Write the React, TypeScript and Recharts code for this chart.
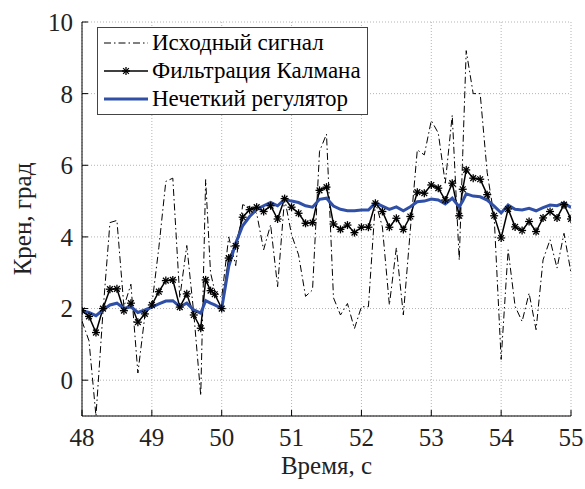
import { LineChart, Line, XAxis, YAxis, CartesianGrid, Legend, Label } from "recharts"

// time stamps, s
const time = [
  48.0, 48.1, 48.2, 48.3, 48.4, 48.5, 48.6, 48.7, 48.8, 48.9,
  49.0, 49.1, 49.2, 49.3, 49.4, 49.5, 49.6, 49.7, 49.77, 49.84, 49.9,
  50.0, 50.1, 50.2, 50.3, 50.4, 50.5, 50.6, 50.7, 50.8, 50.9,
  51.0, 51.1, 51.2, 51.3, 51.4, 51.5, 51.6, 51.7, 51.8, 51.9,
  52.0, 52.1, 52.2, 52.3, 52.4, 52.5, 52.6, 52.7, 52.8, 52.9,
  53.0, 53.1, 53.2, 53.3, 53.4, 53.45, 53.5, 53.6, 53.7, 53.8, 53.9,
  54.0, 54.1, 54.2, 54.3, 54.4, 54.5, 54.6, 54.7, 54.8, 54.9, 55.0,
]

const rawSignal = [
  1.65, 1.1, -1.0, 1.9, 4.4, 4.46, 2.05, 2.68, 0.2, 1.8,
  2.1, 3.7, 5.55, 5.64, 2.3, 3.76, 1.87, -0.43, 5.6, 3.0, 2.5,
  2.3, 4.0, 3.2, 4.9, 4.83, 4.66, 3.64, 4.34, 2.61, 5.08,
  4.06, 3.5, 2.34, 2.52, 6.39, 6.87, 2.3, 1.82, 2.14, 1.44,
  2.05, 2.05, 4.98, 4.28, 2.1, 3.7, 1.82, 4.2, 6.43, 6.29,
  7.25, 6.9, 5.5, 7.4, 3.35, 6.3, 9.2, 8.0, 8.0, 5.8, 4.57,
  0.58, 3.64, 2.06, 1.64, 2.43, 1.41, 3.36, 3.92, 3.13, 4.1, 3.0,
]

const kalman = [
  1.94, 1.78, 1.33, 2.0, 2.54, 2.55, 1.94, 2.15, 1.62, 1.85,
  2.1, 2.47, 2.78, 2.8, 2.04, 2.41, 1.82, 1.45, 2.8, 2.5, 2.4,
  2.0, 3.41, 3.75, 4.55, 4.76, 4.83, 4.71, 4.87, 4.5, 5.07,
  4.83, 4.66, 4.38, 4.4, 5.3, 5.39, 4.36, 4.21, 4.33, 4.12,
  4.27, 4.27, 4.94, 4.71, 4.27, 4.52, 4.21, 4.57, 5.25, 5.22,
  5.45, 5.36, 5.03, 5.5, 4.59, 5.33, 5.87, 5.64, 5.61, 5.18, 4.59,
  3.97, 4.78, 4.28, 4.18, 4.43, 4.15, 4.53, 4.71, 4.53, 4.9, 4.5,
]

const fuzzy = [
  1.94, 1.89, 1.8, 1.96, 2.1, 2.15, 2.0, 2.05, 1.89, 1.96,
  2.04, 2.13, 2.21, 2.22, 2.05, 2.15, 1.96, 1.87, 2.22, 2.15, 2.1,
  2.0, 3.17, 3.82, 4.31, 4.57, 4.77, 4.87, 4.96, 4.87, 5.05,
  5.0, 4.96, 4.87, 4.83, 5.05, 5.08, 4.86, 4.77, 4.73, 4.73,
  4.75, 4.75, 4.95, 4.86, 4.77, 4.84, 4.73, 4.84, 4.98, 5.0,
  5.06, 5.03, 4.92, 5.08, 4.84, 5.0, 5.2, 5.14, 5.12, 5.03, 4.86,
  4.67, 4.89, 4.77, 4.75, 4.8, 4.73, 4.82, 4.89, 4.87, 4.95, 4.82,
]

const xTicks = [48, 49, 50, 51, 52, 53, 54, 55]
const yTicks = [0, 2, 4, 6, 8, 10]

const seriesNames = ["Исходный сигнал", "Фильтрация Калмана", "Нечеткий регулятор"]

const data = time.map((t, i) => ({ t, raw: rawSignal[i], kalman: kalman[i], fuzzy: fuzzy[i] }))

const FONT = "'Liberation Serif', 'DejaVu Serif', 'Noto Serif', Tinos, 'Times New Roman', serif"
const BLUE = "#3050a8"
const RAW_DASH = "7 3 1.5 3"

// matlab style '*' marker
function Star({ cx, cy, r = 4 }: { cx?: number; cy?: number; r?: number }) {
  if (cx == null || cy == null) return null
  const d = r * 0.72
  return (
    <g stroke="#000" strokeWidth={1.3}>
      <line x1={cx - r} y1={cy} x2={cx + r} y2={cy} />
      <line x1={cx} y1={cy - r} x2={cx} y2={cy + r} />
      <line x1={cx - d} y1={cy - d} x2={cx + d} y2={cy + d} />
      <line x1={cx - d} y1={cy + d} x2={cx + d} y2={cy - d} />
    </g>
  )
}

function LegendBox() {
  return (
    <div
      style={{
        border: "1px solid #444",
        background: "#fff",
        padding: "1px 6px 1px 4px",
        fontFamily: FONT,
        fontSize: 23,
        lineHeight: "28px",
        color: "#000",
      }}
    >
      {seriesNames.map((name, i) => (
        <div key={name} style={{ display: "flex", alignItems: "center", height: 28 }}>
          <svg width={48} height={28} style={{ marginRight: 2 }}>
            {i === 0 && <line x1={2} y1={14} x2={46} y2={14} stroke="#000" strokeWidth={1} strokeDasharray={RAW_DASH} />}
            {i === 1 && (
              <>
                <line x1={2} y1={14} x2={46} y2={14} stroke="#000" strokeWidth={1.5} />
                <Star cx={24} cy={14} />
              </>
            )}
            {i === 2 && <line x1={2} y1={14} x2={46} y2={14} stroke={BLUE} strokeWidth={3} />}
          </svg>
          <span>{name}</span>
        </div>
      ))}
    </div>
  )
}

export default function App() {
  const tickStyle = { fontFamily: FONT, fontSize: 25, fill: "#222" }
  return (
    <div style={{ position: "absolute", left: 0, top: 0, background: "#fff", fontFamily: FONT }}>
      <LineChart width={585} height={489} data={data} margin={{ top: 22, right: 14, left: 0, bottom: 0 }}>
        <CartesianGrid stroke="#b4b4b4" strokeDasharray="1 2" />
        <XAxis
          dataKey="t"
          type="number"
          domain={[48, 55]}
          ticks={xTicks}
          allowDataOverflow
          height={73}
          tickSize={-6}
          tickMargin={18}
          tick={tickStyle}
          axisLine={{ stroke: "#000" }}
          tickLine={{ stroke: "#000" }}
        >
          <Label value="Время, с" position="insideBottom" offset={15} style={{ fontFamily: FONT, fontSize: 25, fill: "#222" }} />
        </XAxis>
        <XAxis
          xAxisId="top"
          dataKey="t"
          type="number"
          orientation="top"
          domain={[48, 55]}
          ticks={xTicks}
          allowDataOverflow
          height={0}
          tickSize={-6}
          tick={false}
          axisLine={{ stroke: "#000" }}
          tickLine={{ stroke: "#000" }}
        />
        <YAxis
          type="number"
          domain={[-1, 10]}
          ticks={yTicks}
          allowDataOverflow
          width={82}
          tickSize={-6}
          tickMargin={15}
          tick={tickStyle}
          axisLine={{ stroke: "#000" }}
          tickLine={{ stroke: "#000" }}
        >
          <Label value="Крен, град" angle={-90} position="insideLeft" offset={22} style={{ fontFamily: FONT, fontSize: 25, fill: "#222", textAnchor: "middle" }} />
        </YAxis>
        <YAxis
          yAxisId="right"
          orientation="right"
          type="number"
          domain={[-1, 10]}
          ticks={yTicks}
          allowDataOverflow
          width={0}
          tickSize={-6}
          tick={false}
          axisLine={{ stroke: "#000" }}
          tickLine={{ stroke: "#000" }}
        />
        <Legend
          layout="vertical"
          align="center"
          verticalAlign="middle"
          content={() => <LegendBox />}
          wrapperStyle={{ position: "absolute", left: 97, top: 27, width: "auto" }}
        />
        <Line
          dataKey="raw"
          type="linear"
          stroke="#000"
          strokeWidth={1}
          strokeDasharray={RAW_DASH}
          dot={false}
          activeDot={false}
          isAnimationActive={false}
        />
        <Line
          dataKey="kalman"
          type="linear"
          stroke="#000"
          strokeWidth={1.5}
          dot={(p: any) => <Star key={p.index} cx={p.cx} cy={p.cy} />}
          activeDot={false}
          isAnimationActive={false}
        />
        <Line
          dataKey="fuzzy"
          type="linear"
          stroke={BLUE}
          strokeWidth={3}
          dot={false}
          activeDot={false}
          isAnimationActive={false}
        />
      </LineChart>
    </div>
  )
}
